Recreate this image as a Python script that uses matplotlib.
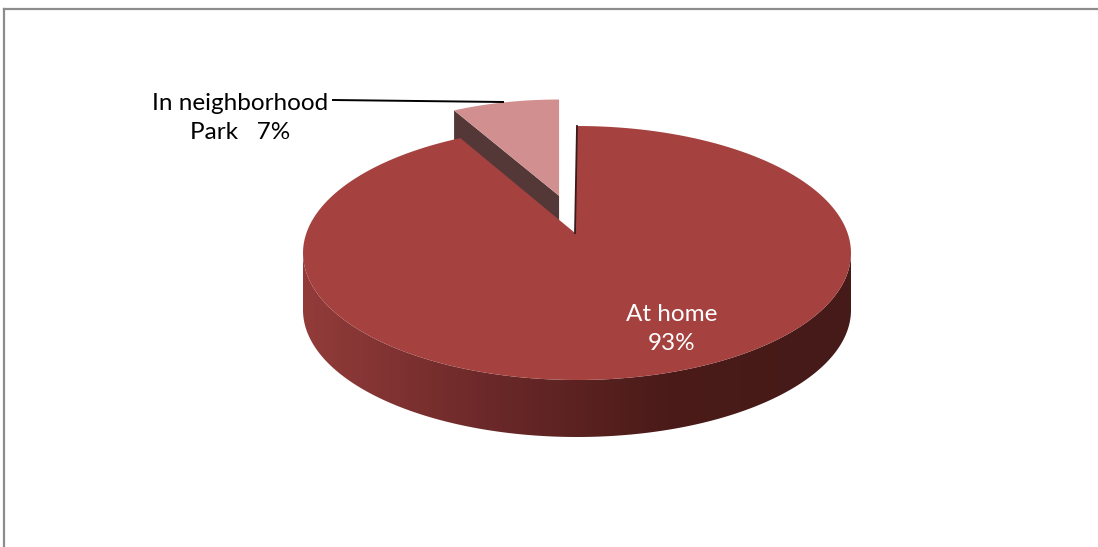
import numpy as np
import matplotlib.pyplot as plt
from matplotlib.patches import Polygon
from matplotlib.colors import LinearSegmentedColormap

plt.rcParams["font.family"] = ["Lato", "DejaVu Sans"]

# survey shares
labels = ["In neighborhood\nPark", "At home"]
shares = [7, 93]
top_colors = ["#D1908F", "#A5423F"]
explode = [0.3, 0.0]

# pie geometry in pixel space
cx, cy = 577, 253          # centre of the top ellipse
rx, ry = 274, 127          # ellipse radii
apex_dy = -20              # perspective shift of the centre point
depth = 57                 # thickness of the disc
far_scale = 0.9            # pulled-out slice sits further back, so smaller


def arc(a0, a1, dx=0.0, dy=0.0, n=200):
    t = np.radians(np.linspace(a0, a1, n))
    return np.column_stack([cx + dx + rx * np.cos(t), cy + dy - ry * np.sin(t)])


fig = plt.figure(figsize=(10.98, 5.47), dpi=100)
ax = fig.add_axes([0, 0, 1, 1])
ax.set_xlim(0, 1098)
ax.set_ylim(547, 0)
ax.axis("off")

# start at 12 o'clock, go counter-clockwise
starts = 90 + 360 * np.cumsum([0] + shares[:-1]) / sum(shares)
ends = starts + 360 * np.array(shares) / sum(shares)

# --- exploded slice (Park) ---
s0, s1 = starts[0], ends[0]
mid = np.radians((s0 + s1) / 2)
ox = explode[0] * rx * np.cos(mid)
oy = -explode[0] * ry * np.sin(mid)
apex = np.array([cx + ox, cy + apex_dy + oy])
rim = apex + (arc(s0, s1, ox, oy) - apex) * far_scale
edge_top = np.array([apex, rim[-1]])
edge_bot = edge_top + [0, depth * far_scale]
side = np.vstack([edge_top, edge_bot[::-1]])
ax.add_patch(Polygon(side, closed=True, facecolor="#543838", edgecolor="none"))
ax.add_patch(Polygon(np.vstack([apex, rim]), closed=True,
                     facecolor=top_colors[0], edgecolor="none"))

# --- main slice (At home) ---
front_top = arc(180, 360)
front_bot = front_top[::-1] + [0, depth]
front = Polygon(np.vstack([front_top, front_bot]), closed=True,
                facecolor="none", edgecolor="none")
ax.add_patch(front)
side_cmap = LinearSegmentedColormap.from_list(
    "side", ["#923C3A", "#6C2929", "#4A1B19", "#451A18"])
grad = np.linspace(0, 1, 256).reshape(1, -1)
im = ax.imshow(grad, cmap=side_cmap, aspect="auto",
               extent=[cx - rx, cx + rx, cy + ry + depth, cy],
               interpolation="bilinear", zorder=1)
im.set_clip_path(front)

m_apex = np.array([cx - 2, cy + apex_dy])
m_rim = arc(starts[1], ends[1])
ax.add_patch(Polygon(np.vstack([m_apex, m_rim]), closed=True,
                     facecolor=top_colors[1], edgecolor="none", zorder=2))
# cut face seen edge-on
ax.plot([m_rim[-1][0], m_apex[0]], [m_rim[-1][1], m_apex[1]],
        color="#3A1A1A", lw=1.3, zorder=3)

# --- labels ---
ax.text(240, 118, f"{labels[0]}   {shares[0]}%", ha="center", va="center",
        multialignment="center", fontsize=17.5, color="#000000",
        linespacing=1.45, zorder=4)
ax.plot([333, 503], [100, 102], color="#000000", lw=1.4, zorder=4)
ax.text(672, 329, f"{labels[1]}\n{shares[1]}%", ha="center", va="center",
        multialignment="center", fontsize=17.5, color="white",
        linespacing=1.45, zorder=4)

# frame
fig.add_artist(plt.Line2D([4 / 1098, 1], [1 - 9 / 547, 1 - 9 / 547],
                          transform=fig.transFigure, color="#8C8C8C", lw=1.6))
fig.add_artist(plt.Line2D([4 / 1098, 4 / 1098], [0, 1 - 9 / 547],
                          transform=fig.transFigure, color="#8C8C8C", lw=1.6))

fig.savefig("out.png", dpi=100, facecolor="white")
